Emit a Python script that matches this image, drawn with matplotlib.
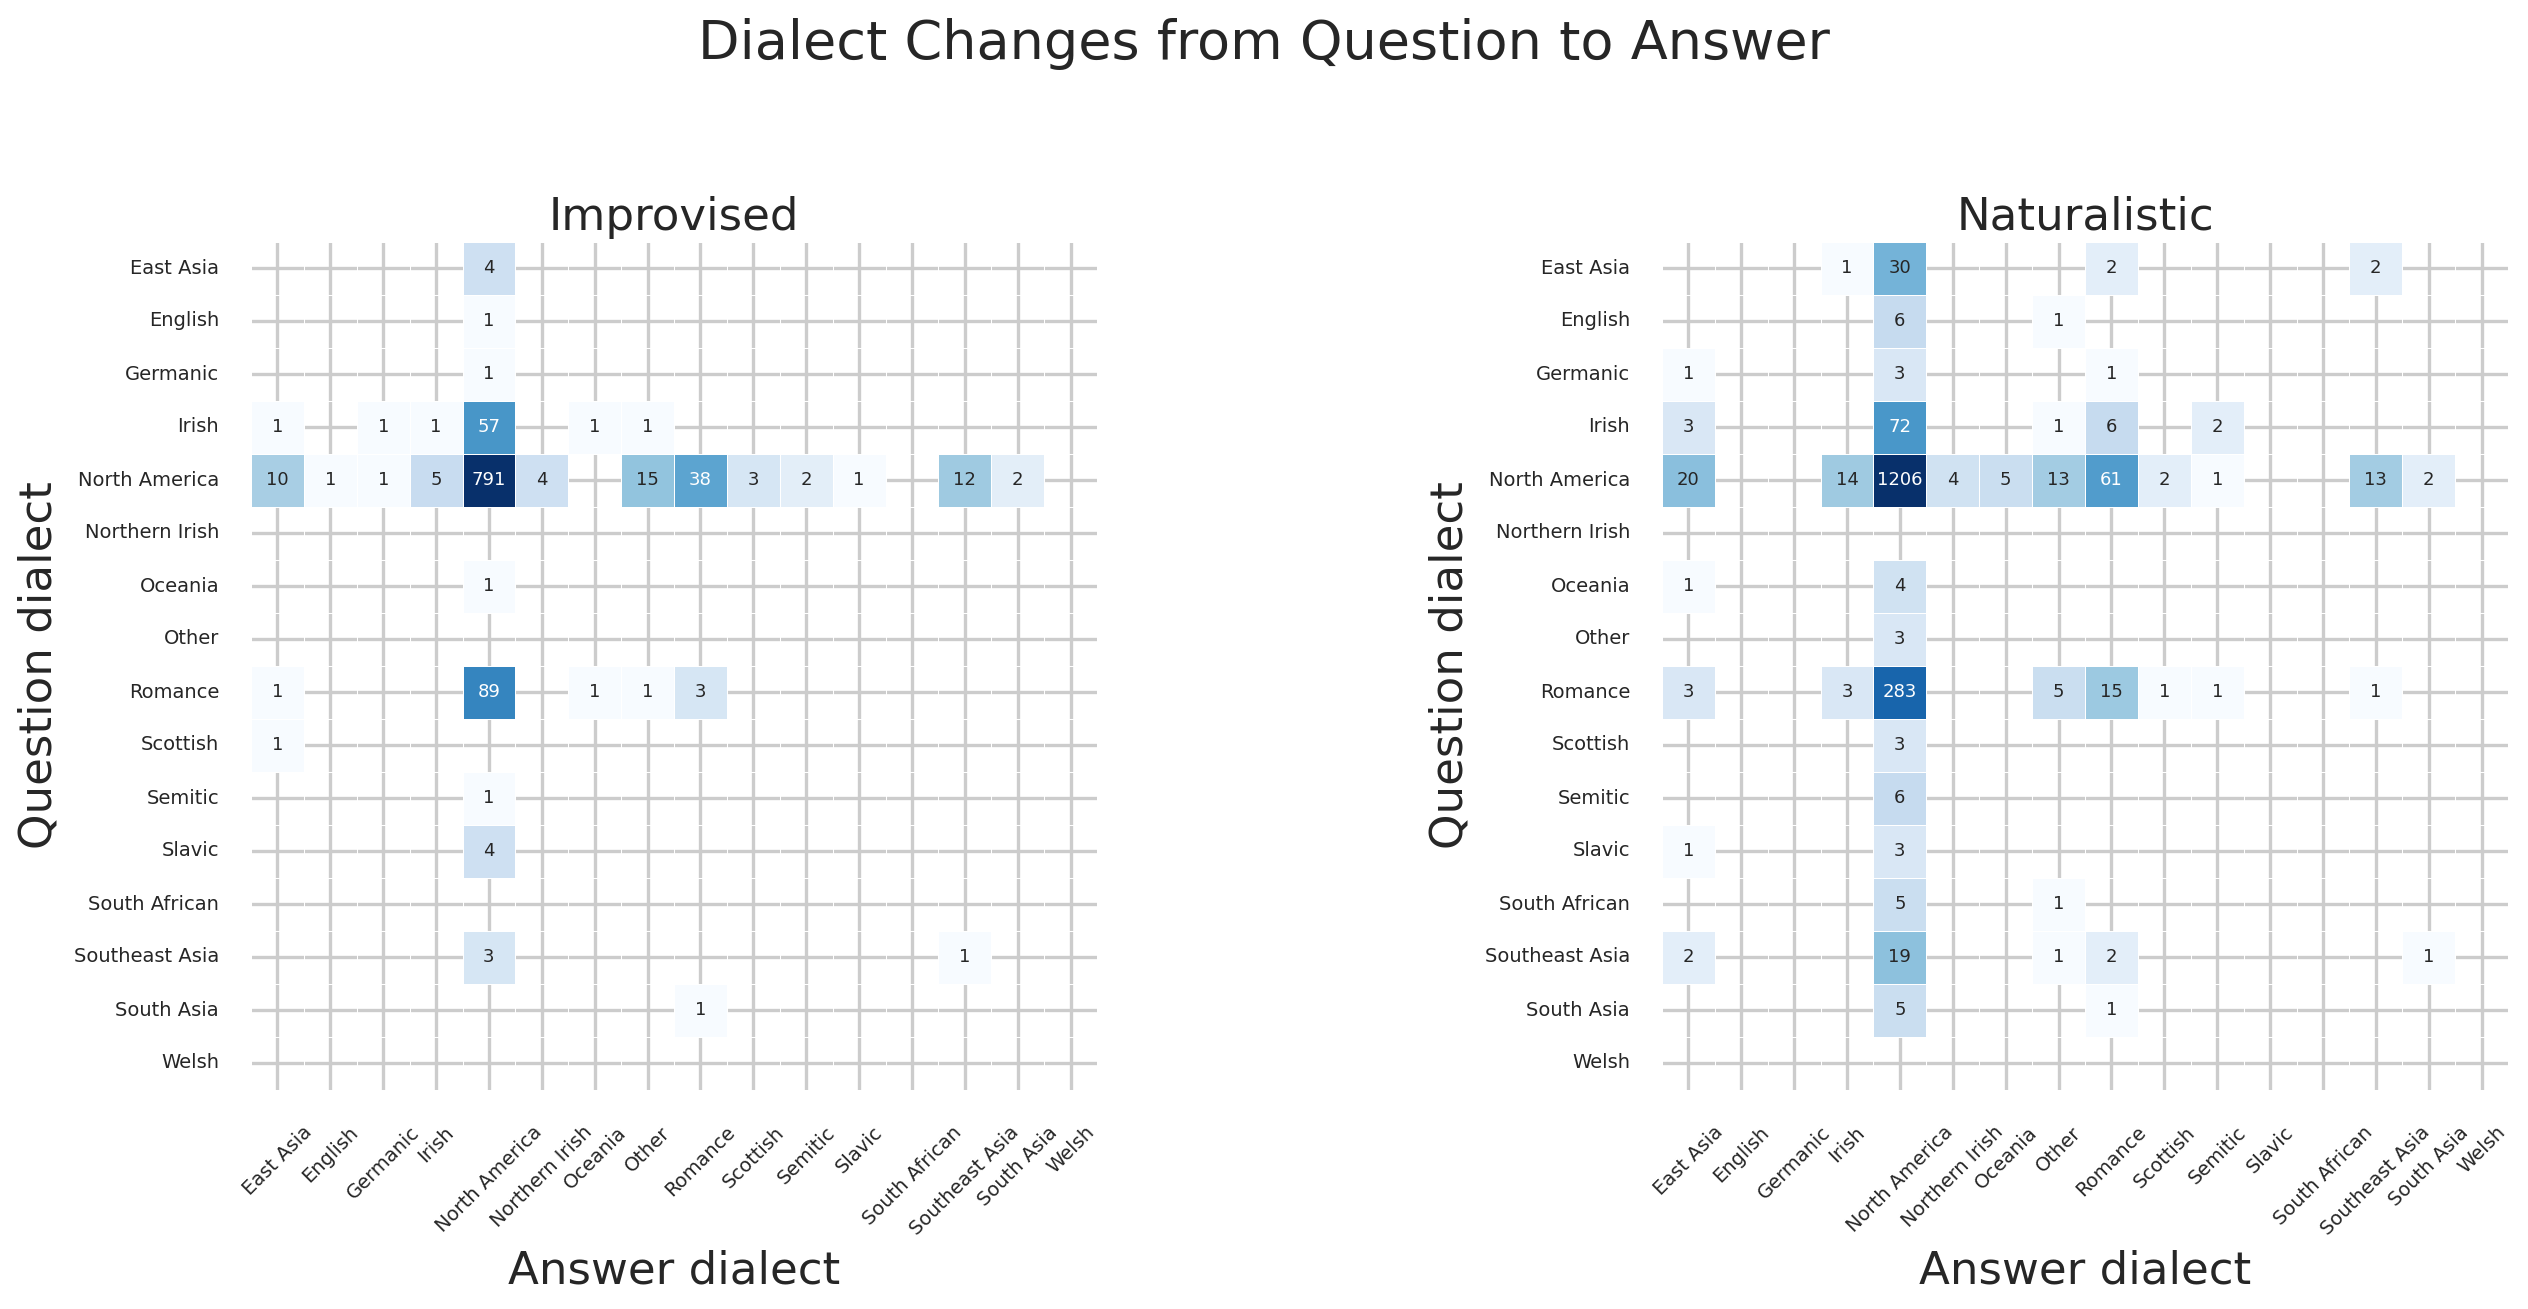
import numpy as np
import matplotlib
matplotlib.use("Agg")
import matplotlib.pyplot as plt
import seaborn as sns
from matplotlib.colors import LogNorm

dialects = ["East Asia", "English", "Germanic", "Irish", "North America",
            "Northern Irish", "Oceania", "Other", "Romance", "Scottish",
            "Semitic", "Slavic", "South African", "Southeast Asia",
            "South Asia", "Welsh"]

# rows = question dialect, columns = answer dialect
improvised = [
    [0, 0, 0, 0, 4, 0, 0, 0, 0, 0, 0, 0, 0, 0, 0, 0],
    [0, 0, 0, 0, 1, 0, 0, 0, 0, 0, 0, 0, 0, 0, 0, 0],
    [0, 0, 0, 0, 1, 0, 0, 0, 0, 0, 0, 0, 0, 0, 0, 0],
    [1, 0, 1, 1, 57, 0, 1, 1, 0, 0, 0, 0, 0, 0, 0, 0],
    [10, 1, 1, 5, 791, 4, 0, 15, 38, 3, 2, 1, 0, 12, 2, 0],
    [0, 0, 0, 0, 0, 0, 0, 0, 0, 0, 0, 0, 0, 0, 0, 0],
    [0, 0, 0, 0, 1, 0, 0, 0, 0, 0, 0, 0, 0, 0, 0, 0],
    [0, 0, 0, 0, 0, 0, 0, 0, 0, 0, 0, 0, 0, 0, 0, 0],
    [1, 0, 0, 0, 89, 0, 1, 1, 3, 0, 0, 0, 0, 0, 0, 0],
    [1, 0, 0, 0, 0, 0, 0, 0, 0, 0, 0, 0, 0, 0, 0, 0],
    [0, 0, 0, 0, 1, 0, 0, 0, 0, 0, 0, 0, 0, 0, 0, 0],
    [0, 0, 0, 0, 4, 0, 0, 0, 0, 0, 0, 0, 0, 0, 0, 0],
    [0, 0, 0, 0, 0, 0, 0, 0, 0, 0, 0, 0, 0, 0, 0, 0],
    [0, 0, 0, 0, 3, 0, 0, 0, 0, 0, 0, 0, 0, 1, 0, 0],
    [0, 0, 0, 0, 0, 0, 0, 0, 1, 0, 0, 0, 0, 0, 0, 0],
    [0, 0, 0, 0, 0, 0, 0, 0, 0, 0, 0, 0, 0, 0, 0, 0],
]

naturalistic = [
    [0, 0, 0, 1, 30, 0, 0, 0, 2, 0, 0, 0, 0, 2, 0, 0],
    [0, 0, 0, 0, 6, 0, 0, 1, 0, 0, 0, 0, 0, 0, 0, 0],
    [1, 0, 0, 0, 3, 0, 0, 0, 1, 0, 0, 0, 0, 0, 0, 0],
    [3, 0, 0, 0, 72, 0, 0, 1, 6, 0, 2, 0, 0, 0, 0, 0],
    [20, 0, 0, 14, 1206, 4, 5, 13, 61, 2, 1, 0, 0, 13, 2, 0],
    [0, 0, 0, 0, 0, 0, 0, 0, 0, 0, 0, 0, 0, 0, 0, 0],
    [1, 0, 0, 0, 4, 0, 0, 0, 0, 0, 0, 0, 0, 0, 0, 0],
    [0, 0, 0, 0, 3, 0, 0, 0, 0, 0, 0, 0, 0, 0, 0, 0],
    [3, 0, 0, 3, 283, 0, 0, 5, 15, 1, 1, 0, 0, 1, 0, 0],
    [0, 0, 0, 0, 3, 0, 0, 0, 0, 0, 0, 0, 0, 0, 0, 0],
    [0, 0, 0, 0, 6, 0, 0, 0, 0, 0, 0, 0, 0, 0, 0, 0],
    [1, 0, 0, 0, 3, 0, 0, 0, 0, 0, 0, 0, 0, 0, 0, 0],
    [0, 0, 0, 0, 5, 0, 0, 1, 0, 0, 0, 0, 0, 0, 0, 0],
    [2, 0, 0, 0, 19, 0, 0, 1, 2, 0, 0, 0, 0, 0, 1, 0],
    [0, 0, 0, 0, 5, 0, 0, 0, 1, 0, 0, 0, 0, 0, 0, 0],
    [0, 0, 0, 0, 0, 0, 0, 0, 0, 0, 0, 0, 0, 0, 0, 0],
]

panels = [("Improvised", improvised), ("Naturalistic", naturalistic)]

sns.set_theme(style="whitegrid")
plt.rcParams["grid.linewidth"] = 2.4
plt.rcParams["grid.color"] = "#cccccc"

W, H = 2528, 1309
fig = plt.figure(figsize=(W / 100, H / 100), dpi=100)

# axes boxes in pixels: left, top, width, height
boxes = [(251, 241.5, 846, 848), (1662, 241.5, 846, 848)]

for (name, values), (x0, y0, w, h) in zip(panels, boxes):
    ax = fig.add_axes([x0 / W, 1 - (y0 + h) / H, w / W, h / H])
    data = np.array(values)
    sns.heatmap(data, ax=ax, mask=(data == 0), cmap="Blues",
                norm=LogNorm(vmin=1, vmax=data.max()),
                annot=True, fmt="d", annot_kws={"fontsize": 13},
                linewidths=0.7, linecolor="white", cbar=False,
                xticklabels=dialects, yticklabels=dialects)
    ax.set_axisbelow(True)
    ax.grid(True)
    ax.tick_params(axis="x", rotation=45, labelsize=14, length=0, pad=24)
    ax.tick_params(axis="y", rotation=0, labelsize=14, length=0, pad=23)
    ax.set_title(name, fontsize=32.5, pad=8.6)
    ax.set_xlabel("Answer dialect", fontsize=32.5)
    ax.set_ylabel("Question dialect", fontsize=32.5)
    # place label baselines where they sit in the reference
    ax.xaxis.set_label_coords(0.5, (y0 + h - 1283) / h)
    ax.xaxis.label.set_verticalalignment("baseline")
    ax.yaxis.set_label_coords(-199 / w, 0.5)
    ax.yaxis.label.set_verticalalignment("baseline")

fig.suptitle("Dialect Changes from Question to Answer", fontsize=39,
             y=1 - 59 / H, va="baseline")

fig.savefig("out.png", dpi=100)
